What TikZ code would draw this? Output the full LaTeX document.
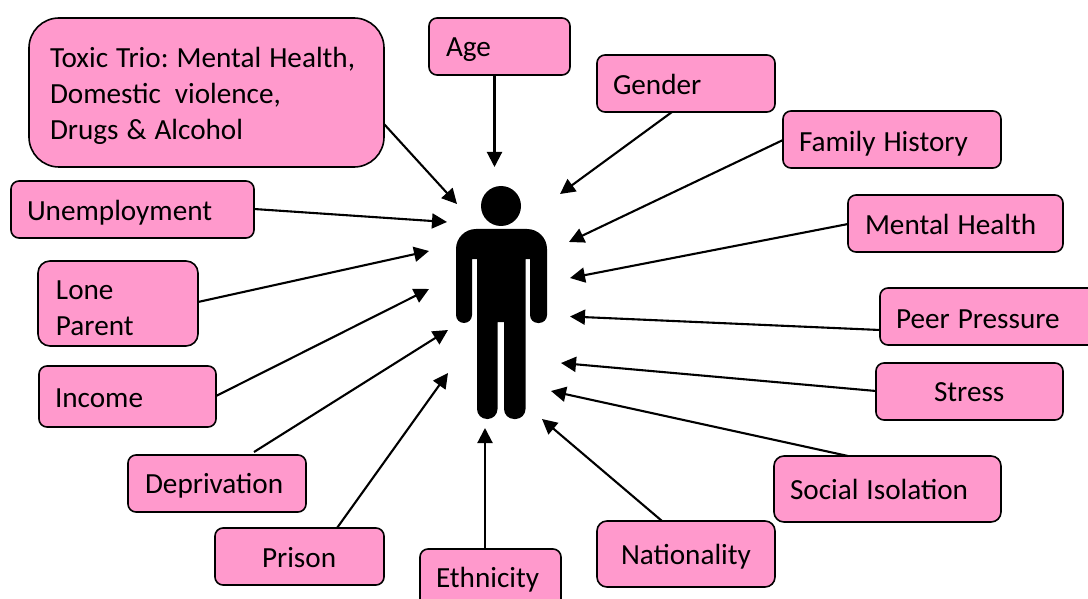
\documentclass[tikz,border=0pt]{standalone}
\usepackage{fontspec}
\setmainfont{Carlito}
\usetikzlibrary{arrows.meta,calc}
\definecolor{boxpink}{HTML}{FF99CC}
\tikzset{
  factor/.style={draw=black,fill=boxpink,line width=1.6pt,outer sep=0pt,inner ysep=0pt,inner xsep=2pt,align=left,text=black,font=\fontsize{29.2}{36}\selectfont,execute at begin node={\frenchspacing\spaceskip=8pt\relax}},
  link/.style={draw=black,line width=2.1pt,-{Triangle[length=15pt,width=15pt]}},
  figure/.style={fill=black}
}
\newcommand{\ind}{\hspace*{\tp pt}}
% radius, name, x1, y1, x2, y2, text x, first baseline, text
\newcommand{\bx}[9][8]{%
  \pgfmathsetmacro{\tp}{#7-#3-2}%
  \pgfmathsetmacro{\bw}{#5-#3}%
  \pgfmathsetmacro{\bh}{#6-#4}%
  \pgfmathsetmacro{\th}{max(2*(#8-(#4+#6)/2),0)}%
  \pgfmathsetmacro{\td}{max(-2*(#8-(#4+#6)/2),0)}%
  \node[factor,rounded corners=#1pt,minimum width=\bw pt,minimum height=\bh pt,text width=\bw pt-4pt,text height=\th pt,text depth=\td pt]
    (#2) at ({(#3+#5)/2},{(#4+#6)/2}) {\ind #9};%
}
\begin{document}
\begin{tikzpicture}[x=1pt,y=-1pt]
\clip (0,0) rectangle (1088,599);
\fill[white] (0,0) rectangle (1088,599);
% person
\fill[figure] (501,206) circle (20);
\fill[figure] (472,259) [rounded corners=8] -- (472,323) -- (456,323) [rounded corners=20] -- (456,229) -- (547,229) [rounded corners=8] -- (547,323) -- (530,323) [sharp corners] -- (530,259) -- (525.5,259) [rounded corners=10] -- (525.5,419) -- (504,419) [sharp corners] -- (504,322) -- (497.5,322) [rounded corners=10] -- (497.5,419) -- (477,419) [sharp corners] -- (477,259) -- cycle;
% boxes
\bx[30]{toxic}{29}{18}{384}{167}{50}{68}{Toxic Trio: Mental Health,\\\ind Domestic\hspace{14pt}violence,\\\ind Drugs \& Alcohol}
\bx{age}{429}{18}{570}{75}{446}{56.5}{Age}
\bx{gender}{597}{55}{775}{112}{613}{95}{Gender}
\bx{family}{783}{111}{1001}{168}{799}{151.5}{Family History}
\bx{mental}{848}{195}{1063}{252}{865}{235}{Mental Health}
\bx{peer}{880}{288}{1100}{345}{896}{328}{Peer Pressure}
\bx{stress}{876}{363}{1063}{420}{934}{401.5}{Stress}
\bx[10]{social}{774}{456}{1001}{522}{790}{499.5}{Social Isolation}
\bx[10]{nationality}{597}{521}{775}{587}{621}{564.5}{Nationality}
\bx{ethnicity}{420}{549}{561}{607}{436}{587.5}{Ethnicity}
\bx{prison}{215}{528}{384}{585}{262}{567.5}{Prison}
\bx{deprivation}{128}{455}{306}{512}{145}{493.5}{Deprivation}
\bx{income}{39}{366}{216}{427}{55}{407.5}{Income}
\bx[12]{lone}{38}{261}{198}{346}{56}{299}{Lone\\\ind Parent}
\bx{unemployment}{11}{181}{254}{238}{27}{221}{Unemployment}
% arrow tips
\coordinate (tToxic) at (457,204);
\coordinate (tAge) at (494.5,167);
\coordinate (tGender) at (560,194);
\coordinate (tFamily) at (569,242);
\coordinate (tMental) at (570,278);
\coordinate (tPeer) at (570,316.5);
\coordinate (tStress) at (561,363);
\coordinate (tSocial) at (551,391);
\coordinate (tNation) at (542,419);
\coordinate (tEthnic) at (485,428);
\coordinate (tPrison) at (448,373);
\coordinate (tDepriv) at (448,330);
\coordinate (tIncome) at (429,289);
\coordinate (tLone) at (429,251);
\coordinate (tUnemp) at (447,222);
% connectors
\draw[link] ($(toxic.south east)+(0,-43)$) -- (tToxic);
\draw[link] ($(age.south west)+(65.5,0)$) -- (tAge);
\draw[link] ($(gender.south west)+(75,0)$) -- (tGender);
\draw[link] ($(family.north west)+(0,29)$) -- (tFamily);
\draw[link] ($(mental.north west)+(0,29)$) -- (tMental);
\draw[link] ($(peer.north west)+(0,42)$) -- (tPeer);
\draw[link] ($(stress.north west)+(0,28)$) -- (tStress);
\draw[link] ($(social.north west)+(74,0)$) -- (tSocial);
\draw[link] ($(nationality.north west)+(65,0)$) -- (tNation);
\draw[link] ($(ethnicity.north west)+(65,0)$) -- (tEthnic);
\draw[link] ($(prison.north west)+(122,0)$) -- (tPrison);
\draw[link] ($(deprivation.north west)+(126,-3)$) -- (tDepriv);
\draw[link] ($(income.north east)+(0,30)$) -- (tIncome);
\draw[link] ($(lone.north east)+(0,41)$) -- (tLone);
\draw[link] ($(unemployment.north east)+(0,28)$) -- (tUnemp);
\end{tikzpicture}
\end{document}
